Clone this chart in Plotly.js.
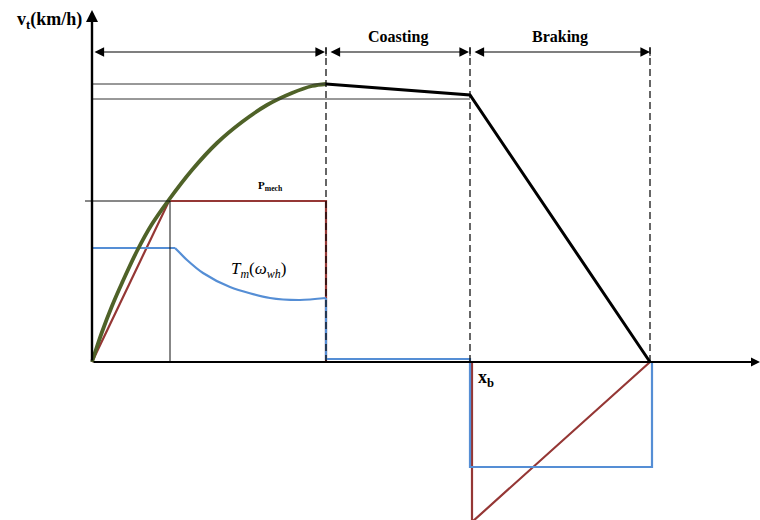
<!DOCTYPE html>
<html><head><meta charset="utf-8">
<script src="https://cdn.plot.ly/plotly-3.0.1.min.js"></script>
<style>html,body{margin:0;padding:0;background:#fff}#chart{width:760px;height:520px}</style>
</head><body><div id="chart"></div>
<script>
// phase boundaries along distance axis
const phaseX = [0, 234, 378, 558];
const phaseLabels = ['Coasting', 'Braking'];
// speed profile: acceleration (green) and coasting/braking (black)
const accelX = [0, 10, 20, 30, 45, 60, 76, 100, 125, 150, 175, 200, 220, 234];
const accelY = [0, 30, 56, 79, 111, 138, 161, 192, 219, 240, 257, 269, 276, 278];
const coastX = [234, 378, 558];
const coastY = [278, 267, 0];
// tractive power / force (red)
const forceX = [0, 77, 234, 234, 380, 380, 558];
const forceY = [0, 161, 161, 0, 0, -160, 0];
// motor torque (blue)
const torqueFlatX = [0, 83];
const torqueFlatY = [114, 114];
const torqueCurveX = [83, 86, 95, 111, 138, 178, 208, 234];
const torqueCurveY = [114, 111, 102, 89, 75, 64, 62, 64];
const torqueRestX = [234, 234, 378, 378, 560, 560];
const torqueRestY = [64, 3, 3, -105, -105, 0];
// reference levels
const vMaxLevel = 278;
const vCoastLevel = 263;
const baseSpeedLevel = 161;
const baseSpeedX = 78;

const serif = 'Liberation Serif, DejaVu Serif, serif';
const green = '#4f6228', red = '#953735', blue = '#558ed5';

const traces = [
  {x: forceX, y: forceY, mode: 'lines', line: {color: red, width: 2.2}},
  {x: torqueFlatX, y: torqueFlatY, mode: 'lines', line: {color: blue, width: 2.2}},
  {x: torqueCurveX, y: torqueCurveY, mode: 'lines', line: {color: blue, width: 2.2, shape: 'spline', smoothing: 0.8}},
  {x: torqueRestX, y: torqueRestY, mode: 'lines', line: {color: blue, width: 2.2}},
  {x: accelX, y: accelY, mode: 'lines', line: {color: green, width: 3.8, shape: 'spline', smoothing: 1}},
  {x: coastX, y: coastY, mode: 'lines', line: {color: '#000', width: 3}}
];

const shapes = [
  {type: 'line', x0: 0, x1: phaseX[1], y0: vMaxLevel, y1: vMaxLevel, line: {color: '#333', width: 1}},
  {type: 'line', x0: 0, x1: phaseX[2], y0: vCoastLevel, y1: vCoastLevel, line: {color: '#333', width: 1}},
  {type: 'line', x0: -7, x1: baseSpeedX, y0: baseSpeedLevel, y1: baseSpeedLevel, line: {color: '#111', width: 1}},
  {type: 'line', x0: baseSpeedX, x1: baseSpeedX, y0: 0, y1: baseSpeedLevel, line: {color: '#111', width: 1}}
];
for (let i = 1; i < phaseX.length; i++) {
  shapes.push({type: 'line', x0: phaseX[i], x1: phaseX[i], y0: 0, y1: 317,
    line: {color: '#000', width: 1.2, dash: '7px,4px'}});
}
for (let i = 0; i < phaseX.length; i++) {
  shapes.push({type: 'line', x0: phaseX[i], x1: phaseX[i], y0: 306, y1: 314, line: {color: '#000', width: 1}});
}

const arrowY = 310;
const annotations = [
  // axes
  {x: 0, y: 352, ax: 0, ay: 0, axref: 'x', ayref: 'y', xref: 'x', yref: 'y', text: '', showarrow: true,
   arrowhead: 2, arrowsize: 1, arrowwidth: 2.4, arrowcolor: '#000'},
  {x: 668, y: 0, ax: 0, ay: 0, axref: 'x', ayref: 'y', xref: 'x', yref: 'y', text: '', showarrow: true,
   arrowhead: 2, arrowsize: 1, arrowwidth: 1.8, arrowcolor: '#000'},
  // phase arrows
  {x: phaseX[1] - 1, y: arrowY, ax: phaseX[0] + 1, ay: arrowY, axref: 'x', ayref: 'y', xref: 'x', yref: 'y', text: '',
   showarrow: true, arrowhead: 2, arrowside: 'end+start', arrowsize: 1.6, arrowwidth: 1.2, arrowcolor: '#000'},
  {x: phaseX[2] - 1, y: arrowY, ax: phaseX[1] + 3, ay: arrowY, axref: 'x', ayref: 'y', xref: 'x', yref: 'y', text: '',
   showarrow: true, arrowhead: 2, arrowside: 'end+start', arrowsize: 1.6, arrowwidth: 1.2, arrowcolor: '#000'},
  {x: phaseX[3], y: arrowY, ax: phaseX[2] + 3, ay: arrowY, axref: 'x', ayref: 'y', xref: 'x', yref: 'y', text: '',
   showarrow: true, arrowhead: 2, arrowside: 'end+start', arrowsize: 1.6, arrowwidth: 1.2, arrowcolor: '#000'},
  {x: (phaseX[1] + phaseX[2]) / 2, y: 325, xref: 'x', yref: 'y', text: '<b>' + phaseLabels[0] + '</b>', showarrow: false,
   font: {family: serif, size: 16, color: '#000'}},
  {x: (phaseX[2] + phaseX[3]) / 2, y: 325, xref: 'x', yref: 'y', text: '<b>' + phaseLabels[1] + '</b>', showarrow: false,
   font: {family: serif, size: 16, color: '#000'}},
  {x: -43, y: 342, xref: 'x', yref: 'y', text: '<b>v<sub>t</sub>(km/h)</b>', showarrow: false,
   font: {family: serif, size: 18, color: '#000'}},
  {x: 178, y: 176, xref: 'x', yref: 'y', text: '<b>P<sub>mech</sub></b>', showarrow: false,
   font: {family: serif, size: 11, color: '#000'}},
  {x: 166, y: 92, xref: 'x', yref: 'y', text: '<i>T<sub>m</sub></i>(<i>ω<sub>wh</sub></i>)', showarrow: false,
   font: {family: serif, size: 17, color: '#000'}},
  {x: 394, y: -16, xref: 'x', yref: 'y', text: '<b>x<sub>b</sub></b>', showarrow: false,
   font: {family: serif, size: 18, color: '#000'}}
];

const layout = {
  width: 760, height: 520,
  margin: {l: 0, r: 0, t: 0, b: 0},
  paper_bgcolor: '#fff', plot_bgcolor: '#fff',
  showlegend: false,
  xaxis: {range: [-92, 668], visible: false, fixedrange: true},
  yaxis: {range: [-158, 362], visible: false, fixedrange: true},
  shapes: shapes,
  annotations: annotations
};
Plotly.newPlot('chart', traces, layout, {displayModeBar: false, staticPlot: true});
</script></body></html>
